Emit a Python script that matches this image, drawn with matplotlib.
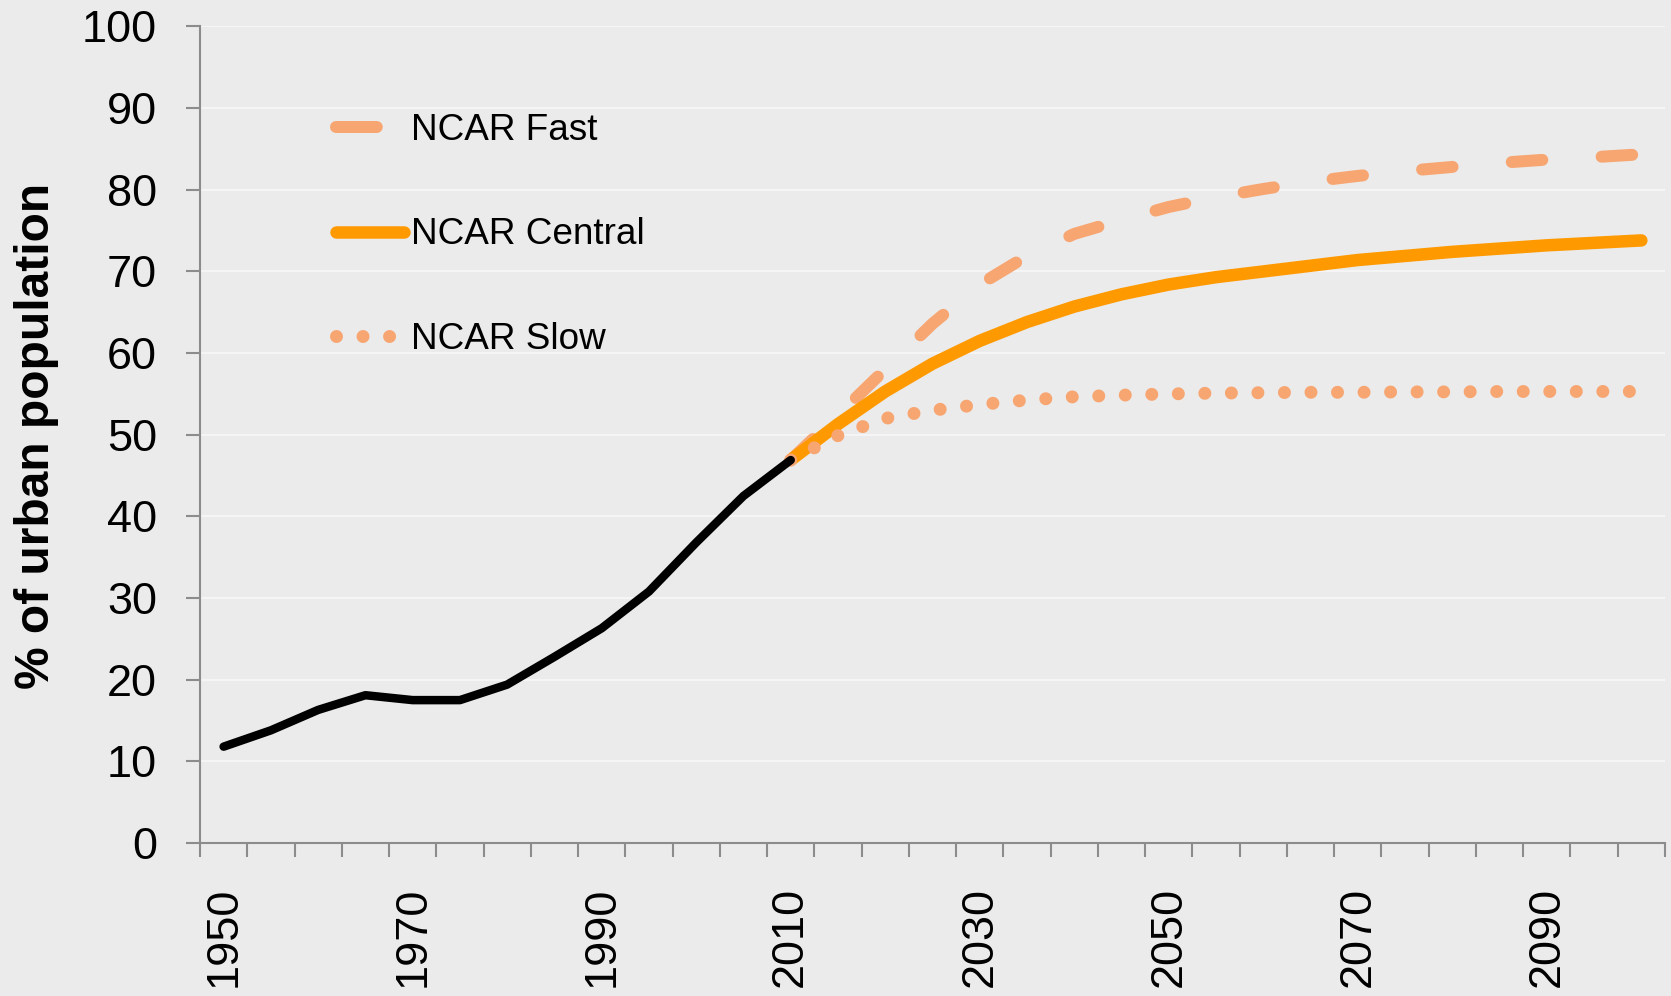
import matplotlib
matplotlib.use("Agg")
import matplotlib.pyplot as plt
from matplotlib.lines import Line2D
import numpy as np

plt.rcParams['font.family'] = ['Liberation Sans', 'DejaVu Sans']

# ---- data ----
years = list(range(1950, 2101, 5))
historic_years = list(range(1950, 2011, 5))
historic = [11.8, 13.8, 16.3, 18.1, 17.5, 17.5, 19.4, 22.8, 26.3, 30.8, 36.8, 42.5, 46.9]
proj_years = list(range(2010, 2101, 5))
ncar_fast = [46.9, 52.4, 58.0, 63.6, 68.4, 71.9, 74.6, 76.3, 77.9, 79.1, 80.1, 81.0,
             81.7, 82.3, 82.8, 83.3, 83.7, 84.0, 84.35]
ncar_central = [46.9, 51.3, 55.3, 58.7, 61.5, 63.8, 65.7, 67.2, 68.4, 69.3, 70.0, 70.7,
                71.4, 71.9, 72.4, 72.8, 73.2, 73.5, 73.8]
ncar_slow = [46.9, 49.9, 52.0, 53.0, 53.7, 54.25, 54.65, 54.85, 55.0, 55.1, 55.15, 55.2,
             55.2, 55.25, 55.25, 55.3, 55.3, 55.3, 55.3]
series_labels = ["NCAR Fast", "NCAR Central", "NCAR Slow"]
y_label = "% of urban population"

# ---- style ----
BG = "#EBEBEB"
GRID = "#F5F5F5"
AXIS = "#8C8C8C"
C_CENTRAL = "#FF9900"
C_LIGHT = "#F7A672"

fig = plt.figure(figsize=(16.71, 9.96), dpi=100, facecolor=BG)
ax = fig.add_axes([200/1671, 1-843/996, 1465/1671, (843-26.5)/996])
ax.set_facecolor(BG)

xi = {y: i for i, y in enumerate(years)}
hx = [xi[y] for y in historic_years]
px = [xi[y] for y in proj_years]

lw_fast = 12 * 0.72
lw_central = 12.5 * 0.72
lw_slow = 13 * 0.72
lw_hist = 8.5 * 0.72

ax.plot(px, ncar_fast, color=C_LIGHT, lw=lw_fast, dashes=(2.55, 4.95),
        dash_capstyle='round', solid_capstyle='round', zorder=3)
ax.plot(px, ncar_central, color=C_CENTRAL, lw=lw_central, solid_capstyle='round',
        solid_joinstyle='round', zorder=4)
ax.plot(px, ncar_slow, color=C_LIGHT, lw=lw_slow, dashes=(0.001, 2.04),
        dash_capstyle='round', zorder=5)
ax.plot(hx, historic, color='black', lw=lw_hist, solid_capstyle='round',
        solid_joinstyle='round', zorder=6)

# axes
ax.set_xlim(-0.5, len(years) - 0.5)
ax.set_ylim(0, 100)
ax.set_yticks(np.arange(0, 101, 10))
ax.yaxis.grid(True, color=GRID, lw=1.5)
ax.set_axisbelow(True)
for s in ['top', 'right']:
    ax.spines[s].set_visible(False)
for s in ['left', 'bottom']:
    ax.spines[s].set_color(AXIS)
    ax.spines[s].set_linewidth(1.5)

ax.tick_params(axis='y', which='major', length=10, width=1.5, color=AXIS,
               labelsize=32.5, pad=21, direction='out')
ax.set_xticks(np.arange(-0.5, len(years), 1.0))
ax.set_xticklabels([])
ax.tick_params(axis='x', which='major', length=10, width=1.5, color=AXIS, direction='out')
lab_idx = list(range(0, len(years), 4))
ax.set_xticks(lab_idx, minor=True)
ax.set_xticklabels([str(years[i]) for i in lab_idx], minor=True, rotation=90)
ax.tick_params(axis='x', which='minor', length=0, labelsize=32.5, pad=44*0.72)
for t in ax.get_xticklabels(minor=True):
    t.set_va('top')

fig.text(37/1671, 1-436/996, y_label, rotation=90, ha='center', va='center',
         fontsize=34.5, fontweight='bold')

# legend proxies
h_fast = Line2D([], [], color=C_LIGHT, lw=lw_fast, dashes=(3.4, 10),
                dash_capstyle='round')
h_central = Line2D([], [], color=C_CENTRAL, lw=lw_central, solid_capstyle='round')
h_slow = Line2D([], [], color=C_LIGHT, lw=lw_slow, dashes=(0.001, 2.04),
                dash_capstyle='round')
leg = ax.legend([h_fast, h_central, h_slow], series_labels, loc='upper left',
                bbox_to_anchor=((336-200)/1465, (843-113)/816.5), frameon=False,
                fontsize=26.6, handlelength=68/37, handletextpad=0.19,
                labelspacing=1.88, borderpad=0, borderaxespad=0)

fig.savefig("out.png", dpi=100, facecolor=BG)
